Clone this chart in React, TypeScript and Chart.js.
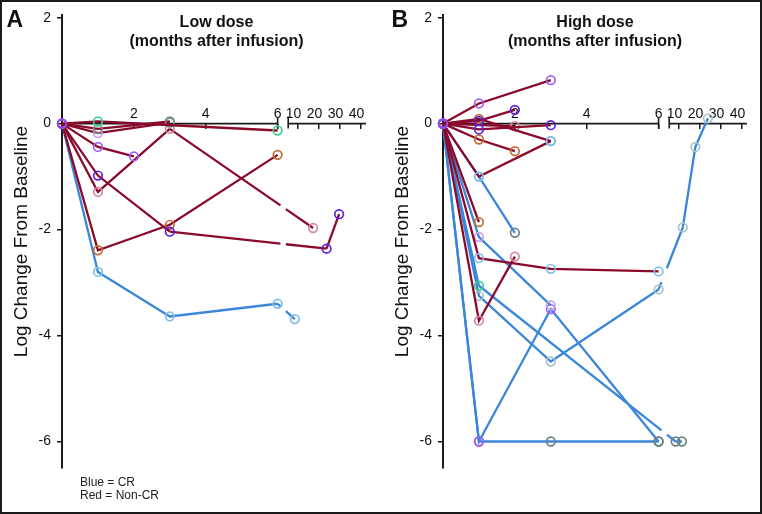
import React, { useEffect, useRef } from 'react';
import { Chart, registerables } from 'chart.js';

Chart.register(...registerables);

// ---------------- Data ----------------
const X_TICKS_EARLY = [2, 4, 6];
const X_TICKS_LATE = [10, 20, 30, 40];
const Y_TICKS = [-6, -4, -2, 0, 2];

// Low dose: months after infusion and log change from baseline per patient
const LOW_MONTHS = [
  [0, 1, 6],
  [0, 1, 3],
  [0, 1, 3],
  [0, 1, 2],
  [0, 1, 3, 23.8, 29.8],
  [0, 1, 3, 17.4],
  [0, 1, 3, 6],
  [0, 1, 3, 6, 8.7],
];
const LOW_LOG_CHANGE = [
  [0, 0.04, -0.13],
  [0, -0.1, 0.04],
  [0, -0.18, 0.02],
  [0, -0.44, -0.62],
  [0, -0.98, -2.04, -2.36, -1.71],
  [0, -1.29, -0.1, -1.97],
  [0, -2.39, -1.91, -0.59],
  [0, -2.8, -3.64, -3.4, -3.69],
];
const LOW_CR = [false, false, false, false, false, false, false, true];

// High dose
const HIGH_MONTHS = [
  [0, 1, 3],
  [0, 1, 2],
  [0, 1, 3],
  [0, 1, 3],
  [0, 2],
  [0, 1, 2],
  [0, 1, 3],
  [0, 1],
  [0, 1, 3, 6],
  [0, 1, 2],
  [0, 1, 2],
  [0, 1, 3],
  [0, 1, 8.6, 11.6],
  [0, 1, 3, 6],
  [0, 1, 3, 6],
  [0, 1, 3, 6, 12, 18, 24],
];
const HIGH_LOG_CHANGE = [
  [0, 0.38, 0.82],
  [0, 0.05, 0.26],
  [0, 0.09, -0.33],
  [0, -0.11, -0.03],
  [0, -0.05],
  [0, -0.3, -0.52],
  [0, -1.0, -0.33],
  [0, -1.86],
  [0, -2.54, -2.74, -2.79],
  [0, -3.72, -2.51],
  [0, -1.0, -2.06],
  [0, -2.14, -3.43],
  [0, -3.06, -6, -6],
  [0, -6, -3.5, -6],
  [0, -6, -6, -6],
  [0, -3.25, -4.49, -3.13, -1.96, -0.44, 0.1],
];
const HIGH_CR = [
  false, false, false, false, false, false, false, false, false, false,
  true, true, true, true, true, true,
];

// ---------------- Styles ----------------
const RED = '#8a0a2c';
const BLUE = '#3a87d9';
const AXIS = '#1a1a1a';
const TEXT = '#111111';
const FONT = '"Liberation Sans", Arial, Helvetica, sans-serif';

const O = '#9050e8';
const PURPLE = '#a35ef2';
const INDIGO = '#5a1fe0';
const LAVENDER = '#c7a0ee';
const GREEN = '#3fd08e';
const GRAY = '#7a8a8e';
const DARKGRAY = '#6a8486';
const LIGHTGRAY = '#a8c4c8';
const PINK = '#d68aa0';
const ORANGE = '#c86a30';
const LIGHTBLUE = '#80c0e8';

const LOW_MARKERS = [
  [O, GREEN, GREEN],
  [O, GRAY, GRAY],
  [O, LAVENDER, GRAY],
  [O, PURPLE, PURPLE],
  [O, INDIGO, INDIGO, INDIGO, INDIGO],
  [O, PINK, PINK, PINK],
  [O, ORANGE, ORANGE, ORANGE],
  [O, LIGHTBLUE, LIGHTBLUE, LIGHTBLUE, LIGHTBLUE],
];
const HIGH_MARKERS = [
  [O, PURPLE, PURPLE],
  [O, INDIGO, INDIGO],
  [O, ORANGE, LIGHTBLUE],
  [O, INDIGO, INDIGO],
  [O, PINK],
  [O, ORANGE, ORANGE],
  [O, LIGHTBLUE, LIGHTBLUE],
  [O, ORANGE],
  [O, LIGHTBLUE, LIGHTBLUE, LIGHTBLUE],
  [O, PINK, PINK],
  [O, LIGHTBLUE, DARKGRAY],
  [O, LAVENDER, LAVENDER],
  [O, GREEN, DARKGRAY, DARKGRAY],
  [O, PURPLE, PURPLE, DARKGRAY],
  [O, PURPLE, DARKGRAY, DARKGRAY],
  [O, LIGHTGRAY, LIGHTGRAY, LIGHTGRAY, LIGHTGRAY, LIGHTGRAY, LIGHTGRAY],
];

// ---------------- Broken axis mapping ----------------
const EARLY_END = 6;
const LATE_ORIGIN_MONTH = 10;
const LATE_ORIGIN_U = 6.556;
const LATE_U_PER_MONTH = 0.0584;
const AXIS_BREAK_U = 6.295;
const GAP_FROM_U = 6.08;
const GAP_TO_U = 6.23;
const X_MAX_U = 8.46;

function monthToAxis(m: number): number {
  return m <= EARLY_END ? m : LATE_ORIGIN_U + (m - LATE_ORIGIN_MONTH) * LATE_U_PER_MONTH;
}

function gapDash(ctx: any) {
  const sx = ctx.chart.scales.x;
  const g0 = sx.getPixelForValue(GAP_FROM_U);
  const g1 = sx.getPixelForValue(GAP_TO_U);
  const p0 = ctx.p0;
  const p1 = ctx.p1;
  if (!(p0.x < g0 && p1.x > g1)) return undefined;
  const dx = p1.x - p0.x;
  const len = Math.hypot(dx, p1.y - p0.y);
  const f0 = (g0 - p0.x) / dx;
  const f1 = (g1 - p0.x) / dx;
  return [f0 * len, (f1 - f0) * len, len + 20];
}

function buildDatasets(months: number[][], values: number[][], cr: boolean[], markers: string[][]) {
  return months.map((ms, i) => ({
    data: ms.map((m, j) => ({ x: monthToAxis(m), y: values[i][j] })),
    borderColor: cr[i] ? BLUE : RED,
    borderWidth: 2.3,
    tension: 0,
    pointRadius: 4.3,
    pointHoverRadius: 4.3,
    pointBorderWidth: 1.7,
    pointBackgroundColor: 'rgba(0,0,0,0)',
    pointBorderColor: markers[i],
    segment: { borderDash: gapDash },
    clip: false as any,
  }));
}

const decorPlugin = {
  id: 'decor',
  beforeDatasetsDraw(chart: any) {
    const { ctx, scales, chartArea } = chart;
    const x = scales.x;
    const y0 = scales.y.getPixelForValue(0);
    ctx.save();
    ctx.strokeStyle = AXIS;
    ctx.lineWidth = 1.6;
    const x0 = x.getPixelForValue(0);
    const x6 = x.getPixelForValue(EARLY_END);
    const xb = x.getPixelForValue(AXIS_BREAK_U);
    ctx.beginPath();
    ctx.moveTo(x0, y0);
    ctx.lineTo(x6, y0);
    ctx.moveTo(xb, y0);
    ctx.lineTo(chartArea.right, y0);
    ctx.moveTo(x6, y0 - 6);
    ctx.lineTo(x6, y0 + 5);
    ctx.moveTo(xb, y0 - 7);
    ctx.lineTo(xb, y0 + 5);
    ctx.stroke();
    ctx.restore();
  },
  afterDraw(chart: any, _args: any, opts: any) {
    const { ctx } = chart;
    ctx.save();
    ctx.fillStyle = TEXT;
    ctx.textBaseline = 'alphabetic';
    ctx.textAlign = 'left';
    ctx.font = `bold 23px ${FONT}`;
    ctx.fillText(opts.letter, opts.letterX, 26.7);
    ctx.textAlign = 'center';
    ctx.font = `bold 16px ${FONT}`;
    ctx.fillText(opts.title[0], opts.titleX, 26.7);
    ctx.fillText(opts.title[1], opts.titleX, 45.7);
    if (opts.notes) {
      ctx.textAlign = 'left';
      ctx.font = `12px ${FONT}`;
      ctx.fillStyle = '#222';
      ctx.fillText(opts.notes[0], 80, 485.7);
      ctx.fillText(opts.notes[1], 80, 499.3);
    }
    ctx.restore();
  },
};

function xScale(ticks: number[], labelOffset: number) {
  return {
    type: 'linear',
    min: 0,
    max: X_MAX_U,
    position: { y: 0 },
    border: { display: false },
    grid: { drawOnChartArea: false, drawTicks: true, tickLength: 5, color: AXIS, lineWidth: 1.5 },
    ticks: {
      padding: -22.5,
      autoSkip: false,
      maxRotation: 0,
      labelOffset,
      color: TEXT,
      font: { family: FONT, size: 14 },
      callback: (_v: any, i: number) => String(ticks[i]),
    },
    afterBuildTicks: (s: any) => {
      s.ticks = ticks.map((m) => ({ value: monthToAxis(m) }));
    },
    afterFit: (s: any) => {
      s.paddingLeft = 0;
      s.paddingRight = 0;
      s.paddingTop = 0;
      s.paddingBottom = 0;
    },
  };
}

function buildConfig(datasets: any[], decor: any): any {
  return {
    type: 'line',
    data: { datasets },
    plugins: [decorPlugin],
    options: {
      responsive: false,
      devicePixelRatio: 1,
      animation: false,
      events: [],
      layout: { padding: { left: 0, right: 15, top: 15, bottom: 46 } },
      plugins: {
        legend: { display: false },
        tooltip: { enabled: false },
        decor,
      },
      scales: {
        x: xScale(X_TICKS_EARLY, 0),
        x2: xScale(X_TICKS_LATE, -4),
        y: {
          type: 'linear',
          min: -6.5,
          max: 2.05,
          position: 'left',
          border: { display: true, color: AXIS, width: 2 },
          grid: { drawOnChartArea: false, drawTicks: true, tickLength: 5, color: AXIS, lineWidth: 1.5 },
          ticks: {
            padding: 6,
            color: TEXT,
            font: { family: FONT, size: 14 },
            callback: (v: any) => String(v),
          },
          title: {
            display: true,
            text: 'Log Change From Baseline',
            color: TEXT,
            font: { family: FONT, size: 19 },
            padding: { top: 10.5, bottom: 0 },
          },
          afterBuildTicks: (s: any) => {
            s.ticks = Y_TICKS.map((v) => ({ value: v }));
          },
          afterFit: (s: any) => {
            s.width = 62;
            s.paddingTop = 0;
            s.paddingBottom = 0;
          },
        },
      },
    },
  };
}

export default function App() {
  const refA = useRef<HTMLCanvasElement>(null);
  const refB = useRef<HTMLCanvasElement>(null);

  useEffect(() => {
    document.body.style.margin = '0';
    const a = new Chart(
      refA.current as HTMLCanvasElement,
      buildConfig(buildDatasets(LOW_MONTHS, LOW_LOG_CHANGE, LOW_CR, LOW_MARKERS), {
        letter: 'A',
        letterX: 6.5,
        title: ['Low dose', '(months after infusion)'],
        titleX: 216.5,
        notes: ['Blue = CR', 'Red = Non-CR'],
      })
    );
    const b = new Chart(
      refB.current as HTMLCanvasElement,
      buildConfig(buildDatasets(HIGH_MONTHS, HIGH_LOG_CHANGE, HIGH_CR, HIGH_MARKERS), {
        letter: 'B',
        letterX: 10.5,
        title: ['High dose', '(months after infusion)'],
        titleX: 214,
        notes: null,
      })
    );
    return () => {
      a.destroy();
      b.destroy();
    };
  }, []);

  return (
    <div style={{ position: 'absolute', left: 0, top: 0, width: 762, height: 514, background: '#fff', overflow: 'hidden' }}>
      <canvas ref={refA} width={381} height={514} style={{ position: 'absolute', left: 0, top: 0 }} />
      <canvas ref={refB} width={381} height={514} style={{ position: 'absolute', left: 381, top: 0 }} />
      <div
        style={{
          position: 'absolute',
          left: 0,
          top: 0,
          right: 0,
          bottom: 0,
          border: '2px solid #1a1a1a',
          boxSizing: 'border-box',
          pointerEvents: 'none',
        }}
      />
    </div>
  );
}
